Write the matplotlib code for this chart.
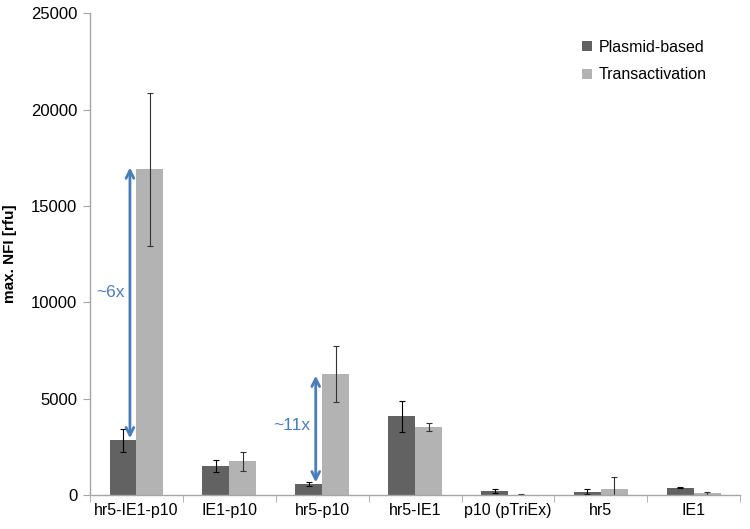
import numpy as np
import matplotlib.pyplot as plt

plt.rcParams['font.family'] = ['Liberation Sans', 'DejaVu Sans']

# values
constructs = ['hr5-IE1-p10', 'IE1-p10', 'hr5-p10', 'hr5-IE1', 'p10 (pTriEx)', 'hr5', 'IE1']
plasmid = [2850, 1500, 560, 4100, 220, 180, 380]
plasmid_err = [600, 300, 110, 800, 110, 130, 30]
trans = [16900, 1750, 6300, 3550, 30, 320, 100]
trans_err = [3950, 500, 1450, 200, 20, 620, 80]

dark = '#626262'
light = '#b3b3b3'
blue = '#4a7ebb'
grey = '#a6a6a6'

fig = plt.figure(figsize=(7.5, 5.29), dpi=100)
ax = fig.add_axes([0.12, 0.064, 0.867, 0.911])

x = np.arange(len(constructs))
w = 0.29
ax.bar(x - w / 2, plasmid, w, color=dark, label='Plasmid-based',
       yerr=plasmid_err, error_kw=dict(ecolor='black', elinewidth=0.8, capsize=2.5, capthick=0.8))
ax.bar(x + w / 2, trans, w, color=light, label='Transactivation',
       yerr=trans_err, error_kw=dict(ecolor='#333333', elinewidth=0.8, capsize=2.5, capthick=0.8))

ax.set_xlim(-0.5, len(constructs) - 0.5)
ax.set_ylim(0, 25000)
ax.set_yticks(np.arange(0, 25001, 5000))
ax.set_xticks(x)
ax.set_xticklabels(constructs)
ax.set_xticks(np.arange(-0.5, len(constructs), 1), minor=True)
ax.tick_params(axis='x', which='major', length=0, pad=6, labelsize=11.5)
ax.tick_params(axis='x', which='minor', length=5, color=grey, direction='out')
ax.tick_params(axis='y', length=5, color=grey, labelsize=12, pad=4)

for s in ['top', 'right']:
    ax.spines[s].set_visible(False)
for s in ['left', 'bottom']:
    ax.spines[s].set_color(grey)
    ax.spines[s].set_linewidth(1)

ax.set_ylabel('max. NFI [rfu]', fontsize=11, fontweight='bold', labelpad=10)

# fold-change arrows
arrow_kw = dict(arrowstyle='<->', color=blue, lw=2, mutation_scale=14, shrinkA=0, shrinkB=0)
ax.annotate('', xy=(x[0] - 0.07, trans[0] + 100), xytext=(x[0] - 0.07, plasmid[0] + 100),
            arrowprops=arrow_kw)
ax.text(x[0] - 0.28, 10500, '~6x', color=blue, fontsize=12.5, ha='center', va='center')
ax.annotate('', xy=(x[2] - 0.07, trans[2] - 100), xytext=(x[2] - 0.07, plasmid[2] + 100),
            arrowprops=arrow_kw)
ax.text(x[2] - 0.33, 3600, '~11x', color=blue, fontsize=12.5, ha='center', va='center')

ax.legend(loc='upper right', bbox_to_anchor=(0.97, 0.975), frameon=False, fontsize=11.5,
          handlelength=0.6, handleheight=0.6, handletextpad=0.4, labelspacing=0.8)

fig.savefig('out.png', dpi=100)
